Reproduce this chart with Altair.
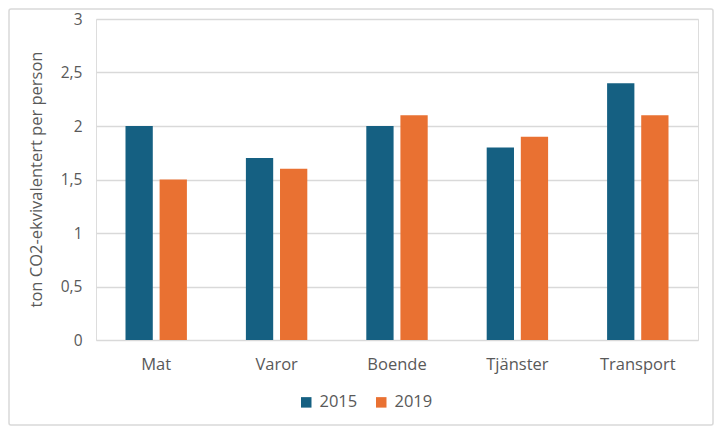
import altair as alt
import pandas as pd

categories = ["Mat", "Varor", "Boende", "Tjänster", "Transport"]
years = ["2015", "2019"]
values_2015 = [2.0, 1.7, 2.0, 1.8, 2.4]
values_2019 = [1.5, 1.6, 2.1, 1.9, 2.1]
y_ticks = [0, 0.5, 1, 1.5, 2, 2.5, 3]

rows = []
for c, a, b in zip(categories, values_2015, values_2019):
    rows.append({"kategori": c, "år": "2015", "värde": a})
    rows.append({"kategori": c, "år": "2019", "värde": b})
df = pd.DataFrame(rows)

FONT = "Open Sans"
GRAY = "#595959"

bars = alt.Chart(df).mark_bar().encode(
    x=alt.X("kategori:N", sort=categories,
            scale=alt.Scale(paddingInner=0.49, paddingOuter=0.245),
            axis=alt.Axis(title=None, labelAngle=0, ticks=False, domain=False,
                          labelPadding=16, labelFontSize=16.5, labelColor=GRAY,
                          labelFont=FONT, grid=False)),
    xOffset=alt.XOffset("år:N", sort=years,
                        scale=alt.Scale(paddingInner=0.2, paddingOuter=0)),
    y=alt.Y("värde:Q",
            scale=alt.Scale(domain=[0, 3], nice=False),
            axis=alt.Axis(values=y_ticks, format=",.1~f", ticks=False, domain=False,
                          labelPadding=14, labelFontSize=15.5, labelColor=GRAY,
                          labelFont=FONT, gridColor="#D9D9D9", gridWidth=1.5,
                          title="ton CO2-ekvivalentert per person",
                          titleFont=FONT, titleFontSize=16.5, titleFontWeight="normal",
                          titleColor=GRAY, titleAngle=-90, titleX=-60, titleY=160,
                          titleAlign="center", titleBaseline="middle")),
    color=alt.Color("år:N", sort=years,
                    scale=alt.Scale(domain=years, range=["#156082", "#E97132"]),
                    legend=alt.Legend(title=None, orient="none", direction="horizontal",
                                      legendX=202, legendY=375,
                                      symbolType="square", symbolSize=110,
                                      symbolStrokeWidth=0, labelFontSize=16.5,
                                      labelFont=FONT, labelColor=GRAY,
                                      labelOffset=5, columnPadding=15)),
)

border = alt.Chart(pd.DataFrame({"k": [0]})).mark_rect(
    fill=None, stroke="#D9D9D9", strokeWidth=1.5, cornerRadius=2, clip=False
).encode(
    x=alt.value(-87), x2=alt.value(617),
    y=alt.value(-10), y2=alt.value(406),
)

chart = alt.layer(border, bars).properties(
    width=602, height=321,
    autosize=alt.AutoSizeParams(type="none"),
    padding={"left": 88, "top": 11, "right": 16, "bottom": 86},
).configure_view(stroke=None).configure(
    locale={"number": {"decimal": ",", "thousands": "\u00a0", "grouping": [3],
                       "currency": ["", " kr"]}}
)

chart.save("out.html", embed_options={"renderer": "svg", "actions": False})
